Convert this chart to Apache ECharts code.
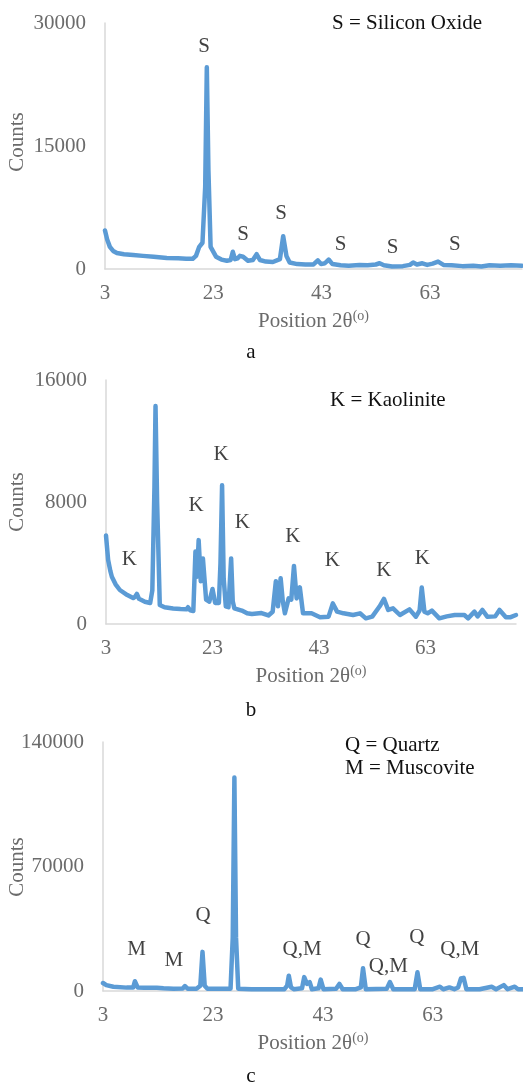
<!DOCTYPE html>
<html>
<head>
<meta charset="utf-8">
<script src="https://cdn.jsdelivr.net/npm/echarts@6/dist/echarts.min.js"></script>
<style>html,body{margin:0;padding:0;background:#fff}#c{width:523px;height:1086px}</style>
</head>
<body>
<div id="c"></div>
<script>
// ---- data (position 2θ, counts) ----
var xTicks = [3, 23, 43, 63];
var yTicksA = [0, 15000, 30000];
var yTicksB = [0, 8000, 16000];
var yTicksC = [0, 70000, 140000];

var patternA = [[3,4700],[3.4,3600],[3.9,2700],[4.5,2200],[5.2,1950],[6.5,1800],[8.2,1700],[10,1600],[12,1480],[14.4,1340],[16.5,1300],[18,1260],[19.2,1250],[19.8,1600],[20.4,2700],[21,3200],[21.5,10000],[21.8,24600],[22.1,12000],[22.5,2700],[23.5,1500],[24.5,1150],[25.5,1000],[26.2,1100],[26.6,2100],[27,1200],[27.5,1300],[27.9,1600],[28.5,1500],[29.4,1000],[30.3,1100],[31,1800],[31.6,1100],[32.7,900],[34,850],[35.3,1200],[35.9,4000],[36.5,1600],[37.1,800],[38.5,600],[40,550],[41.5,550],[42.3,1050],[42.9,600],[43.6,700],[44.3,1150],[45,600],[46.5,450],[48,400],[50,500],[51.5,450],[53,550],[53.7,700],[54.5,450],[56,300],[58,350],[59.3,500],[59.9,800],[60.6,550],[61.6,700],[62.5,500],[63.5,650],[64.5,900],[65.5,500],[67,450],[69,350],[71,400],[72.5,300],[74,450],[76,400],[78,450],[80,400]];

var patternB = [[3,5800],[3.4,4200],[3.8,3500],[4.1,3100],[4.8,2600],[5.6,2230],[7,1900],[8.1,1700],[8.5,1800],[8.8,1970],[9.2,1650],[10.3,1460],[11.3,1380],[11.7,2200],[12.1,9000],[12.3,14300],[12.6,8000],[13.1,1250],[14,1100],[15.6,1020],[17,980],[18.1,960],[18.4,1100],[18.8,900],[19.4,850],[19.8,4750],[20.1,3100],[20.4,5500],[20.8,2800],[21.2,4300],[21.8,1600],[22.4,1460],[23,2300],[23.5,1380],[24.2,1380],[24.5,4000],[24.8,9100],[25.1,3000],[25.5,1160],[26,1100],[26.5,4300],[26.8,1500],[27.1,1030],[28.5,880],[29.5,700],[30.4,650],[32.2,720],[33.5,560],[34.3,800],[34.9,2800],[35.3,1160],[35.8,3000],[36.2,1500],[36.6,700],[37.3,1680],[37.8,1600],[38.3,3800],[38.8,1680],[39.4,2400],[40,700],[41.6,700],[43.2,440],[44.8,480],[45.6,1350],[46.4,810],[47.6,700],[49.4,590],[50.7,700],[51.8,370],[53,480],[54.4,1160],[55.2,1650],[56,920],[56.9,1030],[58.2,590],[60,960],[61.2,480],[61.9,900],[62.3,2400],[62.8,800],[63.4,700],[64.2,880],[65.6,370],[67,500],[68.5,590],[70.3,590],[71,370],[72.2,810],[72.8,500],[73.7,920],[74.6,480],[76.1,500],[76.9,920],[78.1,440],[79,450],[80,590]];

var patternC = [[3,4500],[3.6,3300],[4.9,2400],[7.3,1900],[8.5,2000],[8.8,5500],[9.3,2000],[10.5,1800],[12.8,1800],[14,1500],[15.8,1300],[17.5,1400],[17.9,2800],[18.4,1300],[20,1300],[20.7,3000],[21.1,22000],[21.5,3000],[22,1300],[24,1200],[26.2,1300],[26.6,30000],[26.9,120000],[27.2,30000],[27.6,1300],[30,1000],[33,1000],[36,1000],[36.5,3000],[36.8,8600],[37.2,2000],[37.7,1000],[39.2,1500],[39.6,7800],[40.1,4000],[40.6,5000],[41,1000],[42.2,1500],[42.6,6400],[43.1,1000],[45.4,1200],[46,4000],[46.6,1000],[49,1000],[49.9,2000],[50.3,12800],[50.8,1000],[54.6,1200],[55.2,5000],[55.8,1000],[59.7,1000],[60.2,10500],[60.7,1000],[63,1000],[64.3,2400],[64.9,1000],[66,2000],[66.9,1000],[67.6,2000],[68.1,7000],[68.6,7400],[69.1,1000],[71.5,1000],[73.7,2400],[74.5,1000],[75.9,3300],[76.6,1000],[77.9,2400],[78.5,1000],[79.4,1000]];

var peakLabelsA = [[21.3,27100,'S'],[28.5,4150,'S'],[35.5,6830,'S'],[46.5,3050,'S'],[56.1,2680,'S'],[67.6,3050,'S']];
var peakLabelsB = [[7.4,4240,'K'],[12.3,16050,'K'],[19.9,7800,'K'],[24.6,11130,'K'],[28.6,6650,'K'],[38.1,5730,'K'],[45.5,4150,'K'],[55.2,3540,'K'],[62.4,4310,'K']];
var peakLabelsC = [[9.1,23400,'M'],[15.9,17000,'M'],[21.2,42700,'Q'],[26.6,140100,'Q'],[39.2,23400,'Q,M'],[50.3,29000,'Q'],[54.9,13700,'Q,M'],[60.1,30200,'Q'],[67.9,23400,'Q,M']];

var legendA = ['S = Silicon Oxide'];
var legendB = ['K = Kaolinite'];
var legendC = ['Q = Quartz', 'M = Muscovite'];
var panelNames = ['a', 'b', 'c'];

// ---- styles ----
var FONT = '"Liberation Serif", "Times New Roman", serif';
var GRAY = '#6b6b6b';
var BLUE = '#5B9BD5';

var grids = [
  {left:105, top:23, width:417, height:246},
  {left:106, top:380, width:410, height:244},
  {left:103, top:742, width:420, height:249}
];
var xMax = [80, 80, 79.4];
var yMax = [30000, 16000, 140000];
var yTicks = [yTicksA, yTicksB, yTicksC];
var patterns = [patternA, patternB, patternC];
var peakLabels = [peakLabelsA, peakLabelsB, peakLabelsC];

var xAxes = [], yAxes = [], series = [];
for (var i = 0; i < 3; i++) {
  xAxes.push({
    type:'value', gridIndex:i, min:3, max:xMax[i],
    axisLine:{show:true, lineStyle:{color:'#d9d9d9', width:1.5}},
    axisTick:{show:false}, splitLine:{show:false},
    axisLabel:{customValues:xTicks, color:GRAY, fontFamily:FONT, fontSize:21, margin:14,
      formatter:function(v){return String(v);}},
    name:'Position 2θ{sup|(o)}', nameLocation:'middle', nameGap:40,
    nameTextStyle:{color:GRAY, fontFamily:FONT, fontSize:21, lineHeight:24,
      rich:{sup:{color:GRAY, fontFamily:FONT, fontSize:14, lineHeight:14, verticalAlign:'top'}}}
  });
  yAxes.push({
    type:'value', gridIndex:i, min:0, max:yMax[i],
    axisLine:{show:true, lineStyle:{color:'#d9d9d9', width:1.5}},
    axisTick:{show:false}, splitLine:{show:false},
    axisLabel:{customValues:yTicks[i], color:GRAY, fontFamily:FONT, fontSize:21, margin:19,
      formatter:function(v){return String(v);}}
  });
  series.push({
    type:'line', xAxisIndex:i, yAxisIndex:i, data:patterns[i], showSymbol:false, symbol:'none',
    lineStyle:{color:BLUE, width:4.5, join:'round', cap:'round'}, silent:true, animation:false, clip:false
  });
  series.push({
    type:'scatter', xAxisIndex:i, yAxisIndex:i, data:peakLabels[i], symbolSize:1,
    itemStyle:{color:'rgba(0,0,0,0)'}, silent:true, animation:false, z:5,
    label:{show:true, position:'inside', color:'#111', fontFamily:FONT, fontSize:21,
      textBorderWidth:0, formatter:function(p){return p.value[2];}}
  });
}

function txt(x, y, s, opts) {
  var o = {type:'text', x:x, y:y, silent:true,
    style:{text:s, fill:(opts && opts.fill) || '#111', font:'21px ' + FONT,
      textAlign:(opts && opts.align) || 'left', textVerticalAlign:'middle'}};
  if (opts && opts.rotation) o.rotation = opts.rotation;
  return o;
}

var graphics = [
  txt(332, 23, legendA[0]),
  txt(330, 400, legendB[0]),
  txt(345, 745, legendC[0]),
  txt(345, 768, legendC[1]),
  txt(251, 352, panelNames[0], {align:'center'}),
  txt(251, 710, panelNames[1], {align:'center'}),
  txt(251, 1076, panelNames[2], {align:'center'}),
  txt(17, 142, 'Counts', {align:'center', rotation:Math.PI/2, fill:GRAY}),
  txt(17, 502, 'Counts', {align:'center', rotation:Math.PI/2, fill:GRAY}),
  txt(17, 867, 'Counts', {align:'center', rotation:Math.PI/2, fill:GRAY})
];

var chart = echarts.init(document.getElementById('c'), null, {renderer:'canvas'});
chart.setOption({
  animation:false,
  backgroundColor:'#fff',
  grid:grids,
  xAxis:xAxes,
  yAxis:yAxes,
  series:series,
  graphic:graphics
});
</script>
</body>
</html>
